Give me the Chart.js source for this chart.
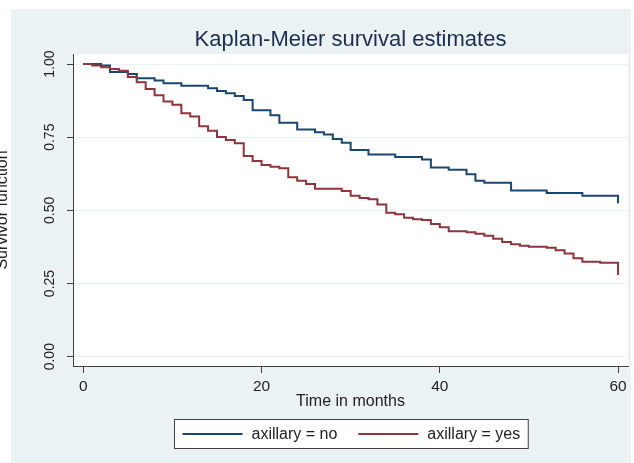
<!DOCTYPE html>
<html>
<head>
<meta charset="utf-8">
<title>Kaplan-Meier survival estimates</title>
<script src="https://cdn.jsdelivr.net/npm/chart.js@4/dist/chart.umd.min.js"></script>
<style>
  html,body{margin:0;padding:0;background:#fff;}
  #wrap{width:634px;height:463px;}
</style>
</head>
<body>
<div id="wrap"><canvas id="kmChart" width="634" height="463"></canvas></div>
<script>
// months where each curve steps down, and the survivor estimate after that step
const noTimes=[0,2,3,5,6,8,9,11,14,15,16,17,18,19,21,22,24,26,27,28,29,30,32,35,38,39,41,43,44,45,48,52,56,60];
const noSurv=[1.000,0.995,0.973,0.966,0.951,0.944,0.934,0.926,0.917,0.908,0.900,0.891,0.877,0.842,0.825,0.799,0.776,0.767,0.759,0.744,
  0.731,0.706,0.691,0.682,0.674,0.646,0.639,0.623,0.601,0.594,0.568,0.559,0.550,0.524];

const yesTimes=[0,1,2,3,4,5,6,7,8,9,10,11,12,13,14,15,16,17,18,19,20,21,22,23,24,25,26,29,30,31,32,33,34,35,36,37,38,39,40,41,
  43,44,45,46,47,48,49,50,52,53,54,55,56,58,60];
const yesSurv=[1.000,0.995,0.989,0.983,0.977,0.956,0.938,0.915,0.893,0.872,0.861,0.832,0.821,0.787,0.772,0.751,0.740,0.729,0.686,0.669,
  0.655,0.649,0.644,0.613,0.601,0.590,0.574,0.566,0.550,0.542,0.538,0.520,0.492,0.487,0.475,0.470,0.467,0.453,0.442,0.429,
  0.425,0.420,0.413,0.403,0.392,0.384,0.379,0.376,0.372,0.364,0.353,0.336,0.324,0.321,0.279];

const groupLabels=['axillary = no','axillary = yes'];
const xTicks=[0,20,40,60];
const yTicks=[0,0.25,0.5,0.75,1];
const yTickLabels=['0.00','0.25','0.50','0.75','1.00'];

const FONT='"Liberation Sans", Arial, sans-serif';
Chart.defaults.font.family=FONT;

const toPoints=(ts,ss)=>ts.map((t,i)=>({x:t,y:ss[i]}));

// stata style frame, title, rotated y labels and boxed legend
const stataFrame={
  id:'stataFrame',
  beforeDraw(chart){
    const {ctx,chartArea:a}=chart;
    ctx.save();
    ctx.fillStyle='#fff';
    ctx.fillRect(0,0,chart.width,chart.height);
    ctx.fillStyle='#eaf2f3';
    ctx.fillRect(11,9,620,454);
    ctx.fillStyle='#fff';
    ctx.fillRect(a.left,a.top,a.right-a.left,a.bottom-a.top);
    ctx.restore();
  },
  afterDraw(chart){
    const {ctx,chartArea:a}=chart;
    const yScale=chart.scales.y;
    const cx=(a.left+a.right)/2;
    ctx.save();

    // title
    ctx.fillStyle='#1c2d4f';
    ctx.font='22px '+FONT;
    ctx.textAlign='center';
    ctx.textBaseline='alphabetic';
    ctx.fillText('Kaplan-Meier survival estimates',cx,46);

    // y tick labels, reading bottom to top
    ctx.fillStyle='#222';
    ctx.font='14px '+FONT;
    yTicks.forEach((v,i)=>{
      ctx.save();
      ctx.translate(54,yScale.getPixelForValue(v));
      ctx.rotate(-Math.PI/2);
      ctx.fillText(yTickLabels[i],0,0);
      ctx.restore();
    });

    // y axis title, partly cut off at the left edge
    ctx.font='16px '+FONT;
    ctx.save();
    ctx.translate(7,(a.top+a.bottom)/2);
    ctx.rotate(-Math.PI/2);
    ctx.fillText('Survivor function',0,0);
    ctx.restore();

    // legend box
    const lineLen=60, gap=9, itemGap=21, padX=8;
    const items=chart.data.datasets.map(ds=>({ds,w:lineLen+gap+ctx.measureText(ds.label).width}));
    const total=items.reduce((s,it)=>s+it.w,0)+itemGap*(items.length-1)+padX*2;
    const bx=Math.round(cx-total/2)+0.5, by=419.5, bh=29;
    ctx.fillStyle='#fff';
    ctx.fillRect(bx,by,total,bh);
    ctx.strokeStyle='#404040';
    ctx.lineWidth=1;
    ctx.strokeRect(bx,by,total,bh);
    let x=bx+padX;
    const cy=by+bh/2;
    items.forEach(it=>{
      ctx.strokeStyle=it.ds.borderColor;
      ctx.lineWidth=it.ds.borderWidth;
      ctx.beginPath();
      ctx.moveTo(x,cy);
      ctx.lineTo(x+lineLen,cy);
      ctx.stroke();
      ctx.fillStyle='#222';
      ctx.textAlign='left';
      ctx.textBaseline='middle';
      ctx.fillText(it.ds.label,x+lineLen+gap,cy+1);
      x+=it.w+itemGap;
    });
    ctx.restore();
  }
};

const ctx=document.getElementById('kmChart').getContext('2d');
new Chart(ctx,{
  type:'line',
  data:{
    datasets:[{
      label:groupLabels[0],
      data:toPoints(noTimes,noSurv),
      borderColor:'#1a476f',
      borderWidth:2,
      stepped:true,
      pointRadius:0,
      fill:false,
      order:1
    },{
      label:groupLabels[1],
      data:toPoints(yesTimes,yesSurv),
      borderColor:'#90353b',
      borderWidth:2,
      stepped:true,
      pointRadius:0,
      fill:false,
      order:0
    }]
  },
  options:{
    responsive:false,
    animation:false,
    devicePixelRatio:1,
    layout:{padding:{left:53,right:6,top:54,bottom:52}},
    plugins:{
      legend:{display:false},
      title:{display:false},
      tooltip:{enabled:false}
    },
    scales:{
      x:{
        type:'linear',
        min:-1.156,
        max:61.12,
        afterBuildTicks:s=>{s.ticks=xTicks.map(v=>({value:v}));},
        afterFit:s=>{s.height=45;},
        grid:{drawOnChartArea:false,drawTicks:true,tickLength:7,tickColor:'#404040'},
        border:{display:true,color:'#404040',width:1},
        ticks:{color:'#222',padding:4,font:{size:15.5},maxRotation:0,callback:v=>v},
        title:{display:true,text:'Time in months',color:'#222',font:{size:16},padding:{top:0,bottom:0}}
      },
      y:{
        type:'linear',
        min:-0.0318,
        max:1.0342,
        afterBuildTicks:s=>{s.ticks=yTicks.map(v=>({value:v}));},
        afterFit:s=>{s.width=20;},
        grid:{color:'#eaf2f3',lineWidth:1,drawTicks:true,tickLength:6,tickColor:'#404040'},
        border:{display:true,color:'#404040',width:1},
        ticks:{display:false}
      }
    }
  },
  plugins:[stataFrame]
});
</script>
</body>
</html>
